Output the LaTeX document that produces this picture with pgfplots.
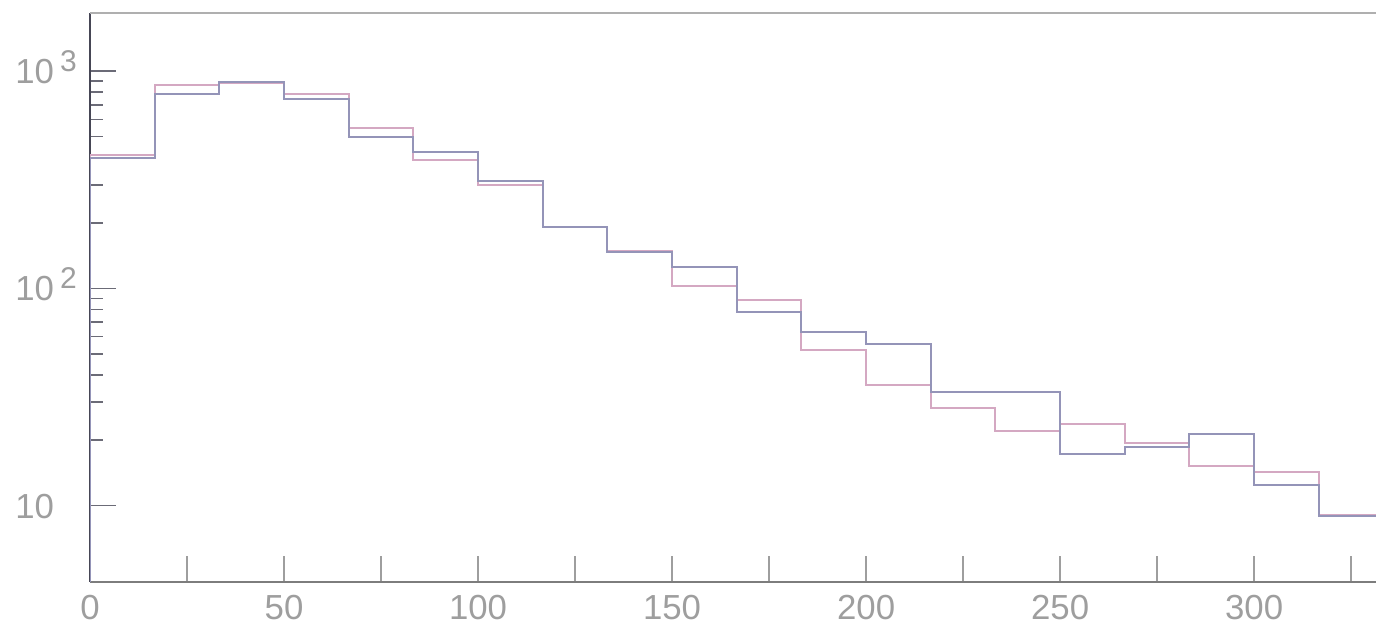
\documentclass[border=0pt]{standalone}
\usepackage{pgfplots}
\pgfplotsset{compat=1.18}
\usepackage{pgfplotstable}
\usepackage{fontspec}
\setmainfont{Liberation Sans}
\definecolor{hblue}{RGB}{148,148,184}
\definecolor{hpink}{RGB}{212,168,194}
\definecolor{lab}{RGB}{158,158,158}
\definecolor{xaxc}{RGB}{125,125,125}
\definecolor{yaxc}{RGB}{70,70,85}
\definecolor{topc}{RGB}{175,175,175}

\pgfplotstableread{
x y
0 1
0 400
16.667 787
33.333 895
50 747
66.667 500
83.333 425
100 313
116.667 192
133.333 147
150 125
166.667 78
183.333 63.3
200 55.6
216.667 33.3
233.333 33.3
250 17.3
266.667 18.6
283.333 21.4
300 12.4
316.667 9.0
333.333 9.0
}\blueh

\pgfplotstableread{
x y
0 1
0 410
16.667 860
33.333 880
50 787
66.667 550
83.333 389
100 298
116.667 192
133.333 148
150 102.8
166.667 88.5
183.333 52.3
200 36.1
216.667 28.1
233.333 22.1
250 23.7
266.667 19.4
283.333 15.2
300 14.3
316.667 9.1
333.333 9.1
}\pinkh

\begin{document}
\begin{tikzpicture}
\begin{axis}[
  scale only axis, width=643pt, height=284.5pt,
  ymode=log, xmin=0, xmax=331.4, ymin=4.45, ymax=1854,
  axis x line=bottom, axis y line=left, axis line style={-},
  x axis line style={draw=xaxc, line width=1pt},
  y axis line style={draw=yaxc, line width=1.2pt},
  tick align=inside,
  xtick={0,25,...,325},
  xticklabels={0,,50,,100,,150,,200,,250,,300,},
  ytick={10,100,1000},
  yticklabels={10,10\hspace{3pt}\raisebox{6pt}{\fontsize{15}{15}\selectfont 2},10\hspace{3pt}\raisebox{6pt}{\fontsize{15}{15}\selectfont 3}},
  major tick length=13pt, minor tick length=6.5pt,
  x tick style={draw=lab, line width=0.8pt},
  y tick style={draw=yaxc!80, line width=0.8pt},
  xticklabel style={font=\fontsize{17.4}{17.4}\selectfont, text=lab, anchor=north, inner sep=0pt, yshift=-6.5pt},
  yticklabel style={font=\fontsize{17.4}{17.4}\selectfont, text=lab, anchor=base west, inner sep=0pt, xshift=-37.5pt, yshift=-6.25pt},
]
\addplot[const plot, hpink, line width=1pt] table[x=x,y=y] {\pinkh};
\addplot[const plot, hblue, line width=1pt] table[x=x,y=y] {\blueh};
\draw[topc, line width=1pt] (rel axis cs:0,1) -- (rel axis cs:1,1);
\end{axis}
\pgfresetboundingbox
\path[use as bounding box] ([xshift=-45pt,yshift=-22pt]current axis.south west) rectangle ([yshift=6.5pt]current axis.north east);
\end{tikzpicture}
\end{document}
